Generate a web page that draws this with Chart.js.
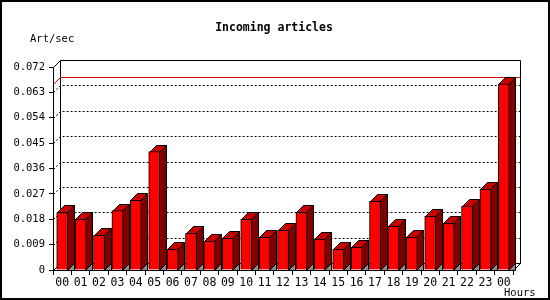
<!DOCTYPE html>
<html>
<head>
<meta charset="utf-8">
<script src="https://cdn.jsdelivr.net/npm/chart.js@4/dist/chart.umd.min.js"></script>
<style>
  html, body { margin: 0; padding: 0; background: #fff; }
  #wrap { width: 550px; height: 300px; }
</style>
</head>
<body>
<div id="wrap"><canvas id="chart" width="550" height="300"></canvas></div>
<script>
// data
const hours = ['00', '01', '02', '03', '04', '05', '06', '07', '08', '09', '10', '11',
               '12', '13', '14', '15', '16', '17', '18', '19', '20', '21', '22', '23', '00'];
const articles = [0.0204, 0.0180, 0.0123, 0.0211, 0.0247, 0.0420, 0.0073, 0.0130, 0.0102,
                  0.0112, 0.0180, 0.0116, 0.0141, 0.0204, 0.0109, 0.0073, 0.0080, 0.0244,
                  0.0155, 0.0116, 0.0190, 0.0165, 0.0227, 0.0286, 0.0659];
const yMax = 0.072;
const yStep = 0.009;

const DEPTH = 7;
const MONO = '"DejaVu Sans Mono", "Liberation Mono", monospace';

// 3d frame, dotted grid on the back wall, max line
const backdrop = {
    id: 'backdrop',
    beforeDatasetsDraw(chart) {
        const ctx = chart.ctx;
        const a = chart.chartArea;
        const y = chart.scales.y;
        const d = DEPTH;
        ctx.save();
        ctx.lineWidth = 1;
        ctx.strokeStyle = '#000';

        // dotted grid lines
        ctx.setLineDash([2, 2]);
        y.ticks.forEach(function(t) {
            if (t.value <= 0 || t.value >= yMax) return;
            const py = Math.round(y.getPixelForValue(t.value)) + 0.5;
            ctx.beginPath();
            ctx.moveTo(a.left + 0.5, py);
            ctx.lineTo(a.left + d + 0.5, py - d);
            ctx.lineTo(a.right + d, py - d);
            ctx.stroke();
        });
        ctx.setLineDash([]);

        // back wall
        const bl = a.left + d + 0.5, bt = a.top - d + 0.5;
        const br = a.right + d + 0.5, bb = a.bottom - d + 0.5;
        ctx.beginPath();
        ctx.moveTo(bl, bb);
        ctx.lineTo(bl, bt);
        ctx.lineTo(br, bt);
        ctx.lineTo(br, bb);
        ctx.lineTo(bl, bb);
        ctx.stroke();

        ctx.beginPath();
        ctx.moveTo(a.left + 0.5, a.top + 0.5);
        ctx.lineTo(bl, bt);
        ctx.moveTo(a.left + 0.5, a.bottom + 0.5);
        ctx.lineTo(bl, bb);
        ctx.moveTo(a.right + 0.5, a.bottom + 0.5);
        ctx.lineTo(br, bb);
        ctx.stroke();

        // max line
        const maxVal = Math.max.apply(null, articles);
        const my = Math.round(y.getPixelForValue(maxVal)) + 0.5;
        ctx.strokeStyle = '#e00000';
        ctx.beginPath();
        ctx.moveTo(a.left + 0.5, my);
        ctx.lineTo(a.left + d + 0.5, my - d);
        ctx.lineTo(br, my - d);
        ctx.stroke();

        // top and side faces of the bars
        const meta = chart.getDatasetMeta(0);
        ctx.strokeStyle = '#000';
        meta.data.forEach(function(bar) {
            const p = bar.getProps(['x', 'y', 'base', 'width'], true);
            const l = Math.round(p.x - p.width / 2) + 0.5;
            const r = Math.round(p.x + p.width / 2) - 0.5;
            const t = Math.round(p.y) + 0.5;
            const b = Math.round(p.base) + 0.5;

            ctx.fillStyle = '#c80000';
            ctx.beginPath();
            ctx.moveTo(l, t);
            ctx.lineTo(l + d, t - d);
            ctx.lineTo(r + d, t - d);
            ctx.lineTo(r, t);
            ctx.closePath();
            ctx.fill();
            ctx.stroke();

            ctx.fillStyle = '#800000';
            ctx.beginPath();
            ctx.moveTo(r, t);
            ctx.lineTo(r + d, t - d);
            ctx.lineTo(r + d, b - d);
            ctx.lineTo(r, b);
            ctx.closePath();
            ctx.fill();
            ctx.stroke();

            ctx.fillStyle = '#8c8c8c';
            ctx.beginPath();
            ctx.moveTo(r, b);
            ctx.lineTo(r + d, b - d);
            ctx.lineTo(r + d, b);
            ctx.closePath();
            ctx.fill();
            ctx.stroke();
        });
        ctx.restore();
    },
    afterDraw(chart) {
        const ctx = chart.ctx;
        ctx.save();
        ctx.fillStyle = '#000';
        ctx.textBaseline = 'alphabetic';
        ctx.font = 'bold 11.5px ' + MONO;
        ctx.textAlign = 'center';
        ctx.fillText('Incoming articles', 274, 31);
        ctx.font = '10.5px ' + MONO;
        ctx.textAlign = 'left';
        ctx.fillText('Art/sec', 30, 42);
        ctx.fillText('Hours', 504, 296);
        ctx.strokeStyle = '#000';
        ctx.lineWidth = 2;
        ctx.strokeRect(1, 1, 548, 298);
        ctx.restore();
    }
};

new Chart(document.getElementById('chart'), {
    type: 'bar',
    data: {
        labels: hours,
        datasets: [{
            data: articles,
            backgroundColor: '#ff0000',
            borderColor: '#000',
            borderWidth: 1,
            barThickness: 11
        }]
    },
    options: {
        responsive: false,
        animation: false,
        layout: { padding: { left: 10, right: 37, top: 67, bottom: 0 } },
        plugins: {
            legend: { display: false },
            tooltip: { enabled: false },
            title: { display: false }
        },
        scales: {
            x: {
                offset: true,
                afterFit: function(scale) { scale.height = 30; },
                grid: { offset: true, drawOnChartArea: false, tickLength: 5, color: '#000' },
                border: { color: '#000' },
                ticks: { color: '#000', padding: 1, maxRotation: 0, autoSkip: false,
                         font: { family: MONO, size: 11.5 } }
            },
            y: {
                min: 0,
                max: yMax,
                afterFit: function(scale) { scale.width = 43; },
                grid: { drawOnChartArea: false, tickLength: 4, color: '#000' },
                border: { color: '#000' },
                ticks: {
                    stepSize: yStep,
                    color: '#000',
                    padding: 4,
                    font: { family: MONO, size: 10.5 },
                    callback: function(v) { return v === 0 ? '0' : v.toFixed(3); }
                }
            }
        }
    },
    plugins: [backdrop]
});
</script>
</body>
</html>
